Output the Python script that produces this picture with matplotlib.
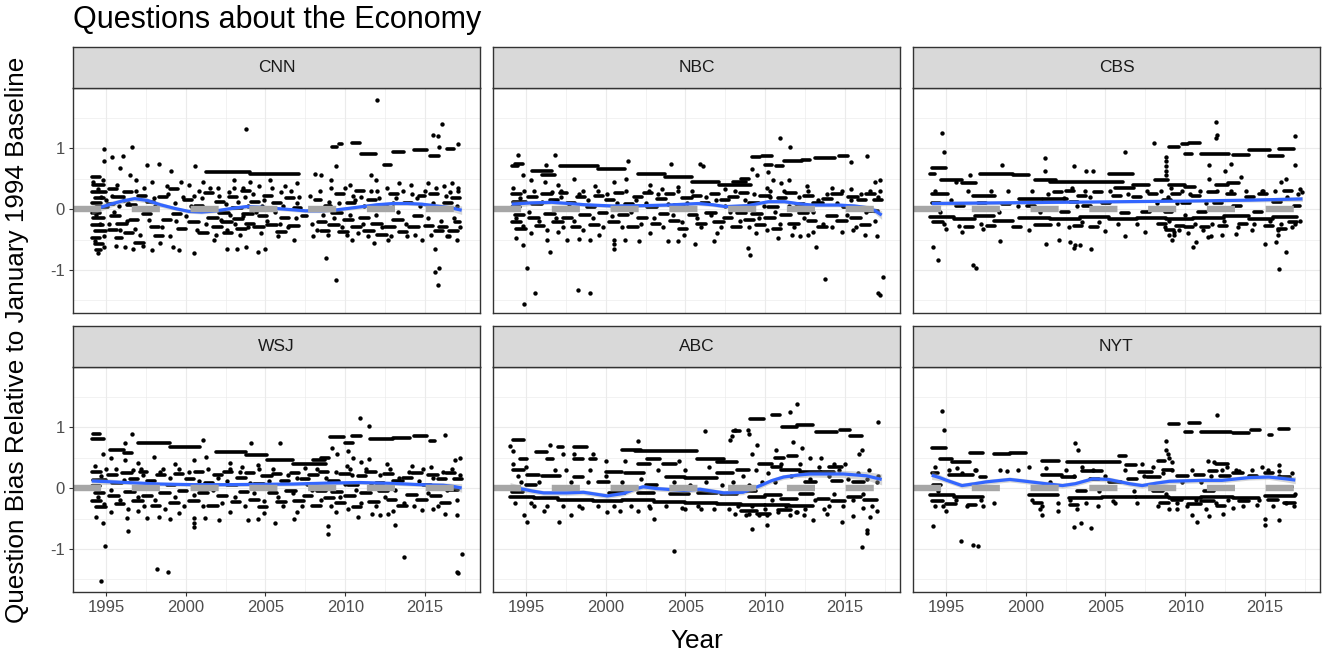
import numpy as np
import matplotlib.pyplot as plt

plt.rcParams['font.family'] = ['Liberation Sans', 'DejaVu Sans']
plt.rcParams['axes.unicode_minus'] = False

networks = ['CNN', 'NBC', 'CBS', 'WSJ', 'ABC', 'NYT']
x_breaks = [1995, 2000, 2005, 2010, 2015]
y_breaks = [-1, 0, 1]

# ---------------- CNN ----------------
# runs of repeated values: (start year, end year, bias)
cnn_runs = [
    (2001.3, 2004.0, 0.61), (2004.0, 2007.1, 0.58),
    (2009.2, 2009.5, 1.02), (2009.6, 2009.8, 1.07), (2010.4, 2010.9, 1.08),
    (2011.0, 2011.9, 0.90), (2012.4, 2012.9, 0.72), (2013.0, 2013.7, 0.94),
    (2014.3, 2015.1, 0.97), (2015.3, 2015.9, 0.87), (2016.4, 2016.8, 0.98),
    (1994.1, 1994.6, 0.52), (1994.2, 1994.9, 0.40), (1994.1, 1995.0, 0.28), (1994.3, 1994.9, 0.18),
    (1994.1, 1994.7, 0.10), (1994.4, 1995.1, 0.03), (1994.1, 1994.6, -0.06), (1994.2, 1994.9, -0.15),
    (1994.1, 1994.8, -0.26), (1994.3, 1995.0, -0.36), (1994.1, 1994.6, -0.47), (1994.3, 1994.8, -0.58),
    (1994.4, 1994.7, -0.68),
    (1995.2, 1995.7, 0.33), (1995.5, 1996.1, 0.20), (1995.1, 1995.5, 0.08), (1995.3, 1995.9, -0.12),
    (1995.7, 1996.3, -0.24), (1995.2, 1995.7, -0.35), (1995.6, 1996.0, -0.48), (1996.1, 1996.6, 0.28),
    (1996.3, 1996.9, 0.06), (1996.5, 1997.0, -0.18), (1996.2, 1996.7, -0.40), (1996.8, 1997.4, -0.55),
    (1997.0, 1997.5, 0.22), (1997.3, 1997.8, -0.08), (1997.6, 1998.0, 0.12), (1997.8, 1998.3, -0.30),
    (1998.1, 1998.6, -0.44), (1998.3, 1998.8, 0.20), (1998.6, 1999.1, -0.18), (1999.0, 1999.5, 0.33),
    (1999.2, 1999.7, -0.08), (1999.5, 2000.0, -0.32), (1999.9, 2000.4, 0.14), (2000.2, 2000.8, -0.22),
    (2000.6, 2001.1, 0.05), (2000.8, 2001.4, -0.40),
    (2001.2, 2001.7, 0.26), (2001.4, 2002.0, -0.14), (2001.7, 2002.3, -0.30), (2001.9, 2002.4, 0.12),
    (2002.1, 2002.7, -0.06), (2002.3, 2002.9, -0.22), (2002.4, 2002.9, -0.40), (2002.7, 2003.2, 0.20),
    (2002.9, 2003.5, 0.02), (2003.0, 2003.6, -0.16), (2003.2, 2003.8, -0.32), (2003.5, 2004.0, 0.30),
    (2003.6, 2004.2, -0.08), (2003.8, 2004.3, -0.24),
    (2004.1, 2004.6, 0.12), (2004.3, 2004.9, -0.30), (2004.6, 2005.1, -0.12), (2004.9, 2005.4, 0.22),
    (2005.1, 2005.7, -0.26), (2005.5, 2006.0, 0.10), (2005.7, 2006.3, -0.38), (2006.0, 2006.5, -0.14),
    (2006.3, 2006.8, 0.18), (2006.5, 2007.1, -0.28), (2006.8, 2007.2, 0.02),
    (2007.3, 2007.6, -0.12), (2008.1, 2008.5, 0.15), (2008.3, 2008.8, -0.22), (2008.5, 2009.0, -0.36),
    (2008.7, 2009.1, 0.05),
    (2009.0, 2009.6, -0.26), (2009.2, 2009.8, -0.06), (2009.4, 2009.9, 0.24), (2009.6, 2010.2, -0.38),
    (2009.9, 2010.5, -0.18), (2010.1, 2010.6, 0.10), (2010.4, 2011.0, -0.30), (2010.7, 2011.2, 0.30),
    (2010.9, 2011.5, -0.14), (2011.2, 2011.8, -0.36), (2011.4, 2011.9, 0.14), (2011.7, 2012.3, -0.24),
    (2012.0, 2012.6, -0.42), (2012.2, 2012.7, 0.04), (2012.5, 2013.1, -0.30), (2012.8, 2013.3, 0.24),
    (2013.0, 2013.6, -0.18), (2013.4, 2013.9, -0.38), (2013.7, 2014.2, 0.10), (2014.0, 2014.6, -0.30),
    (2014.3, 2014.8, -0.12), (2014.6, 2015.0, 0.22),
    (2015.0, 2015.5, -0.28), (2015.3, 2015.8, 0.24), (2015.6, 2016.1, -0.36), (2015.9, 2016.4, -0.30),
    (2016.2, 2016.7, 0.10), (2016.5, 2017.1, -0.36), (2016.7, 2017.2, 0.18), (2016.9, 2017.2, -0.22),
]
cnn_dots = [
    (1994.85, 0.99), (1994.85, 0.78), (1995.4, 0.86), (1996.05, 0.87), (1996.6, 1.01), (1995.9, 0.67),
    (1996.5, 0.55), (1997.6, 0.72), (1998.3, 0.73), (1999.1, 0.62), (2000.6, 0.71), (1996.9, 0.48),
    (1997.9, 0.44), (1998.8, 0.38), (1999.7, 0.45), (2000.2, 0.40), (2001.1, 0.45), (2003.0, 0.48),
    (2004.0, 0.45), (2005.3, 0.48), (2006.2, 0.38), (2007.0, 0.42), (2008.1, 0.58), (2008.5, 0.55),
    (2009.1, 0.48), (2009.4, 0.70), (2011.6, 0.55), (2011.9, 0.48), (2013.4, 0.42), (2014.1, 0.40),
    (2015.2, 0.42), (2016.2, 0.38), (2016.7, 0.42), (2017.1, 0.35), (2010.3, 0.40), (2003.6, 0.35),
    (2004.6, 0.38), (2002.0, 0.35), (2000.8, 0.30),
    (1995.0, 0.15), (1995.8, 0.05), (1996.4, 0.10), (1997.2, 0.02), (1998.0, 0.18), (1999.3, 0.10),
    (2000.5, 0.22), (2001.6, 0.02), (2002.7, 0.28), (2003.9, 0.05), (2004.9, 0.15), (2006.0, 0.28),
    (2007.0, 0.10), (2007.8, 0.22), (2009.0, 0.12), (2010.5, 0.22), (2011.2, 0.05), (2012.0, 0.30),
    (2013.0, 0.10), (2014.5, 0.18), (2015.5, 0.10), (2016.6, 0.28), (2017.0, 0.05),
    (1994.5, -0.72), (1994.9, -0.62), (1995.6, -0.60), (1996.2, -0.62), (1996.7, -0.65), (1997.3, -0.60),
    (1997.9, -0.68), (1998.4, -0.55), (1999.2, -0.62), (1999.6, -0.67), (2000.5, -0.72), (2001.8, -0.50),
    (2002.6, -0.65), (2003.2, -0.65), (2003.8, -0.63), (2004.5, -0.70), (2005.0, -0.65), (2005.8, -0.45),
    (2006.8, -0.50), (2008.0, -0.45), (2008.8, -0.80), (2009.4, -1.16), (2010.4, -0.50), (2011.8, -0.55),
    (2012.7, -0.50), (2013.9, -0.45), (2014.8, -0.50), (2015.65, -0.66), (2015.9, -0.96), (2015.6, -1.04),
    (2015.8, -1.25), (2016.5, -0.45), (2017.0, -0.50),
    (2012.0, 1.79), (2003.8, 1.31), (2016.05, 1.39), (2015.5, 1.21), (2015.8, 1.19), (2017.05, 1.07),
    (2015.9, 1.02),
]
# single points inside the dense band around zero
cnn_cloud = [
    (1994.2, 0.45), (1994.3, -0.52), (1994.5, 0.33), (1994.6, -0.25), (1994.7, 0.20), (1994.9, -0.45),
    (1994.4, -0.10), (1994.8, 0.47), (1995.2, -0.25), (1995.4, 0.22), (1995.5, -0.05), (1995.7, 0.40),
    (1995.9, -0.35), (1996.1, 0.15), (1996.3, -0.20), (1996.8, -0.32), (1996.9, 0.30), (1997.1, -0.42),
    (1997.4, 0.35), (1997.7, -0.18), (1998.1, 0.05), (1998.5, -0.30), (1998.9, 0.25), (1999.0, -0.45),
    (1999.4, -0.20), (1999.8, 0.20), (2000.0, -0.12), (2000.3, 0.05), (2000.7, -0.35), (2001.0, 0.18),
    (2001.3, -0.25), (2001.5, 0.35), (2001.9, -0.42), (2002.1, 0.22), (2002.2, -0.18), (2002.5, 0.08),
    (2002.6, -0.35), (2002.8, -0.10), (2003.0, 0.35), (2003.1, -0.25), (2003.3, 0.12), (2003.4, -0.42),
    (2003.6, -0.12), (2003.7, 0.20), (2003.9, -0.30), (2004.2, 0.25), (2004.4, -0.05), (2004.7, -0.40),
    (2004.8, 0.05), (2005.1, -0.20), (2005.4, 0.35), (2005.6, -0.05), (2005.9, -0.25), (2006.1, 0.05),
    (2006.4, -0.30), (2006.6, 0.30), (2006.9, -0.15), (2007.1, 0.20), (2007.9, -0.25), (2008.2, -0.35),
    (2008.4, 0.30), (2008.6, -0.10), (2008.9, -0.42), (2009.1, 0.35), (2009.3, -0.15), (2009.6, 0.10),
    (2009.8, -0.30), (2010.0, 0.35), (2010.1, -0.42), (2010.3, -0.10), (2010.6, 0.15), (2010.8, -0.40),
    (2011.0, 0.20), (2011.1, -0.25), (2011.4, -0.45), (2011.6, 0.30), (2011.9, -0.10), (2012.1, 0.18),
    (2012.3, -0.30), (2012.6, 0.35), (2012.9, -0.45), (2013.2, 0.18), (2013.3, -0.05), (2013.6, 0.30),
    (2013.8, -0.25), (2014.2, 0.25), (2014.4, -0.42), (2014.7, 0.05), (2015.0, 0.30), (2015.2, -0.15),
    (2015.4, -0.42), (2015.7, 0.35), (2016.0, -0.20), (2016.3, 0.22), (2016.4, -0.45), (2016.8, -0.15),
    (2017.1, 0.30), (2017.2, -0.30),
]
# loess fit: (year, fit, half width of band)
cnn_fit = [
    (1994.1, -0.01, 0.08), (1994.7, 0.03, 0.06), (1995.3, 0.08, 0.05), (1996.0, 0.13, 0.04),
    (1996.8, 0.17, 0.04), (1997.6, 0.14, 0.04), (1998.4, 0.07, 0.04), (1999.3, 0.01, 0.03),
    (2000.2, -0.04, 0.03), (2001.0, -0.05, 0.03), (2001.9, -0.03, 0.03), (2002.9, 0.01, 0.03),
    (2003.8, 0.04, 0.03), (2004.7, 0.03, 0.03), (2005.6, 0.01, 0.03), (2006.6, -0.01, 0.03),
    (2007.5, -0.03, 0.03), (2008.4, -0.03, 0.03), (2009.25, -0.02, 0.03), (2010.2, 0.01, 0.03),
    (2011.1, 0.04, 0.03), (2012.0, 0.07, 0.03), (2013.0, 0.09, 0.03), (2013.9, 0.09, 0.03),
    (2014.8, 0.08, 0.03), (2015.7, 0.05, 0.04), (2016.6, 0.02, 0.05), (2017.3, -0.02, 0.07),
]

# ---------------- NBC ----------------
nbc_runs = [
    (1994.1, 1994.5, 0.70), (1994.3, 1994.8, 0.73), (1995.4, 1996.6, 0.62), (1996.0, 1996.8, 0.56),
    (1997.1, 1999.5, 0.71), (1999.5, 2001.2, 0.66), (2002.0, 2003.7, 0.58), (2003.7, 2005.4, 0.53),
    (2005.4, 2007.1, 0.45), (2007.1, 2009.1, 0.39), (2008.0, 2008.8, 0.45), (2009.15, 2009.7, 0.86),
    (2009.8, 2010.4, 0.87), (2011.2, 2012.3, 0.78), (2012.3, 2012.8, 0.80), (2013.1, 2014.4, 0.84),
    (2014.6, 2015.2, 0.87), (2010.0, 2010.4, 0.72), (2010.7, 2011.1, 0.70), (2008.5, 2009.0, 0.50),
    (1994.1, 1994.7, 0.25), (1994.2, 1995.0, 0.12), (1994.1, 1994.6, 0.03), (1994.3, 1994.9, -0.10),
    (1994.1, 1994.7, -0.22), (1994.4, 1995.0, -0.32),
    (1995.1, 1995.7, 0.20), (1995.4, 1996.0, 0.08), (1995.2, 1995.8, -0.14), (1995.6, 1996.1, -0.28),
    (1996.0, 1996.6, 0.24), (1996.2, 1996.8, -0.08), (1996.5, 1997.0, 0.14), (1996.7, 1997.3, -0.22),
    (1997.1, 1997.6, 0.26), (1997.3, 1997.9, -0.14), (1997.6, 1998.1, 0.10), (1997.9, 1998.4, -0.30),
    (1998.2, 1998.7, 0.20), (1998.4, 1999.0, -0.10), (1998.8, 1999.3, 0.04), (1999.0, 1999.6, -0.26),
    (1999.3, 1999.8, 0.22), (1999.6, 2000.1, -0.06),
    (2000.0, 2000.5, 0.14), (2000.2, 2000.8, -0.22), (2000.6, 2001.1, 0.26), (2000.8, 2001.4, -0.10),
    (2001.2, 2001.7, 0.08), (2001.4, 2002.0, -0.30), (2001.8, 2002.3, 0.20), (2002.0, 2002.6, -0.14),
    (2002.4, 2002.9, 0.26), (2002.6, 2003.2, 0.04), (2002.9, 2003.4, -0.24), (2003.2, 2003.8, 0.16),
    (2003.4, 2003.9, -0.08), (2003.8, 2004.3, 0.24), (2004.0, 2004.6, -0.20), (2004.3, 2004.9, 0.06),
    (2004.6, 2005.1, -0.32), (2004.8, 2005.4, 0.18),
    (2005.2, 2005.7, -0.10), (2005.5, 2006.0, 0.22), (2005.7, 2006.3, -0.24), (2006.0, 2006.5, 0.10),
    (2006.3, 2006.9, -0.06), (2006.6, 2007.1, 0.24), (2006.8, 2007.4, -0.22), (2007.2, 2007.7, 0.14),
    (2007.4, 2007.9, -0.14), (2007.7, 2008.3, 0.20), (2007.9, 2008.5, -0.30), (2008.2, 2008.8, -0.06),
    (2008.4, 2008.9, 0.26), (2008.7, 2009.3, -0.18),
    (2009.0, 2009.6, 0.10), (2009.2, 2009.8, -0.08), (2009.4, 2010.0, -0.26), (2009.7, 2010.3, 0.22),
    (2010.0, 2010.6, -0.14), (2010.2, 2010.8, 0.04), (2010.5, 2011.0, -0.32), (2010.8, 2011.3, 0.18),
    (2011.0, 2011.6, -0.10), (2011.3, 2011.9, 0.26), (2011.5, 2012.1, -0.24), (2011.9, 2012.4, 0.08),
    (2012.1, 2012.7, -0.06), (2012.4, 2013.0, 0.22), (2012.7, 2013.2, -0.20), (2013.0, 2013.6, 0.10),
    (2013.3, 2013.9, -0.30), (2013.6, 2014.2, 0.16), (2013.9, 2014.5, -0.12), (2014.2, 2014.8, 0.24),
    (2014.5, 2015.1, -0.20), (2014.9, 2015.4, 0.04), (2015.2, 2015.8, 0.20), (2015.4, 2016.0, -0.14),
    (2015.8, 2016.3, 0.14), (2016.0, 2016.6, -0.26), (2016.3, 2016.9, 0.24), (2016.5, 2017.1, -0.04),
    (2016.8, 2017.3, 0.14),
]
nbc_dots = [
    (1994.5, 0.89), (1996.8, 0.89), (1996.25, 0.72), (2001.4, 0.78), (2004.1, 0.73), (2005.9, 0.73),
    (2006.1, 0.71), (2010.95, 1.16), (2011.55, 1.02), (2015.4, 0.77), (2016.4, 0.87), (1994.8, 0.55),
    (1995.3, 0.48), (1996.2, 0.45), (1997.0, 0.40), (1998.0, 0.50), (1999.3, 0.38), (2000.5, 0.45),
    (2001.3, 0.50), (2002.8, 0.40), (2004.5, 0.36), (2007.5, 0.32), (2009.2, 0.65), (2009.5, 0.55),
    (2010.2, 0.60), (2010.5, 0.48), (2010.1, 0.35), (2011.0, 0.42), (2011.5, 0.47), (2012.6, 0.38),
    (2014.2, 0.35), (2015.4, 0.33), (2016.9, 0.45), (2017.2, 0.48), (2003.5, 0.33), (1998.6, 0.30),
    (2010.3, 0.30),
    (1994.4, -0.48), (1994.8, -0.59), (1996.5, -0.70), (1996.3, -0.50), (1997.6, -0.50), (1998.3, -0.49),
    (1999.0, -0.51), (2000.5, -0.50), (2000.5, -0.58), (2000.5, -0.65), (2001.2, -0.50), (2002.1, -0.53),
    (2003.9, -0.53), (2004.5, -0.52), (2005.6, -0.58), (2006.8, -0.52), (2008.9, -0.64), (2010.8, -0.48),
    (2011.7, -0.43), (2012.2, -0.45), (2012.7, -0.43), (2014.8, -0.37), (2016.25, -0.43), (2017.0, -0.45),
    (1995.3, -0.40), (1997.0, -0.38), (1999.6, -0.42), (2002.8, -0.40), (2004.9, -0.42), (2007.0, -0.40),
    (2009.4, -0.40), (2013.0, -0.38), (2015.5, -0.35),
    (1995.05, -0.96), (1995.55, -1.37), (1994.85, -1.55), (1998.25, -1.33), (1999.0, -1.38),
    (2009.05, -0.75), (2013.75, -1.14), (2017.4, -1.11), (2017.1, -1.38), (2017.2, -1.41), (2013.2, -0.62),
]
nbc_cloud = [
    (1994.2, 0.35), (1994.4, -0.15), (1994.6, 0.18), (1994.8, -0.28), (1994.9, 0.30), (1995.2, -0.05),
    (1995.5, 0.30), (1995.8, -0.20), (1996.0, 0.12), (1996.3, -0.35), (1996.6, 0.28), (1996.9, -0.15),
    (1997.2, 0.30), (1997.2, 0.20), (1997.3, -0.30), (1997.7, 0.05), (1998.0, -0.20), (1998.3, 0.25),
    (1998.6, -0.35), (1998.9, 0.15), (1999.2, -0.15), (1999.5, 0.30), (1999.8, -0.30), (2000.1, 0.25),
    (2000.4, -0.12), (2000.7, 0.10), (2001.0, -0.30), (2001.3, 0.30), (2001.6, -0.05), (2001.9, 0.15),
    (2002.2, -0.25), (2002.5, 0.10), (2002.7, 0.30), (2003.0, -0.15), (2003.3, 0.25), (2003.6, -0.30),
    (2003.9, 0.08), (2004.2, -0.10), (2004.5, 0.30), (2004.8, -0.22), (2005.1, 0.10), (2005.4, 0.30),
    (2005.7, -0.15), (2006.0, -0.30), (2006.3, 0.20), (2006.6, -0.10), (2006.9, 0.15), (2007.2, -0.30),
    (2007.5, 0.05), (2007.8, -0.05), (2008.1, 0.30), (2008.4, -0.20), (2008.7, 0.15), (2009.0, -0.30),
    (2009.3, 0.25), (2009.6, -0.15), (2009.9, 0.05), (2010.1, -0.35), (2010.3, 0.20), (2010.6, -0.05),
    (2010.9, -0.25), (2011.2, 0.30), (2011.5, 0.05), (2011.8, -0.30), (2012.1, 0.20), (2012.4, -0.15),
    (2012.7, 0.30), (2013.0, -0.05), (2013.3, 0.15), (2013.6, -0.25), (2013.9, 0.25), (2014.2, -0.30),
    (2014.5, 0.10), (2014.8, 0.30), (2015.1, -0.10), (2015.4, 0.15), (2015.7, -0.30), (2016.0, 0.25),
    (2016.3, -0.05), (2016.6, 0.30), (2016.9, -0.20), (2017.1, 0.20), (2017.2, 0.30),
]
nbc_fit = [
    (1994.1, 0.08, 0.06), (1995.3, 0.10, 0.04), (1996.6, 0.11, 0.03), (1997.7, 0.09, 0.03),
    (1998.7, 0.07, 0.03), (2000.4, 0.05, 0.03), (2002.25, 0.055, 0.03), (2003.9, 0.065, 0.03),
    (2005.8, 0.09, 0.03), (2006.7, 0.07, 0.03), (2007.5, 0.04, 0.03), (2008.9, 0.055, 0.03),
    (2010.2, 0.12, 0.03), (2011.2, 0.12, 0.03), (2012.0, 0.09, 0.03), (2012.9, 0.065, 0.03),
    (2014.6, 0.065, 0.03), (2015.6, 0.05, 0.03), (2016.45, 0.02, 0.04), (2016.9, -0.03, 0.05),
    (2017.3, -0.10, 0.07),
]

# ---------------- CBS ----------------
cbs_runs = [
    (1994.1, 1995.0, 0.67), (1994.0, 1994.3, 0.58), (1994.7, 1996.0, 0.48), (1996.0, 1996.9, 0.42),
    (1997.1, 1999.2, 0.58), (1999.2, 2000.2, 0.56), (2000.6, 2001.9, 0.48), (2001.5, 2006.1, 0.45),
    (2005.2, 2006.7, 0.58), (2006.7, 2007.7, 0.39), (2005.6, 2006.8, 0.34), (2008.1, 2008.9, 0.48),
    (2009.0, 2010.0, 0.39), (2010.0, 2010.6, 0.36), (2011.9, 2012.7, 0.39), (2012.7, 2013.4, 0.42),
    (2009.0, 2009.6, 1.02), (2009.8, 2010.2, 1.06), (2010.25, 2010.9, 1.09), (2010.0, 2010.4, 0.91),
    (2011.0, 2012.75, 0.91), (2013.0, 2014.0, 0.89), (2014.0, 2015.3, 0.97), (2015.25, 2016.1, 0.87),
    (2015.9, 2016.8, 0.98),
    (1996.7, 1998.1, 0.22), (1999.6, 2001.05, 0.17), (2001.1, 2002.6, 0.16), (1994.1, 1995.1, 0.24),
    (1994.0, 1995.5, -0.13), (1995.5, 1996.8, -0.17), (1996.8, 1998.0, -0.12), (1998.0, 1999.2, -0.20),
    (1999.6, 2001.5, -0.14), (2001.5, 2003.4, -0.16), (2003.4, 2005.2, -0.13), (2005.2, 2007.0, -0.16),
    (2007.0, 2008.8, -0.14), (2008.8, 2010.5, -0.16), (2010.5, 2012.4, -0.15), (2012.4, 2014.0, -0.12),
    (2014.0, 2015.5, -0.16), (2015.5, 2017.0, -0.13), (2000.6, 2001.6, -0.26),
    (1994.1, 1994.6, 0.10), (1994.2, 1994.8, -0.22), (1995.6, 1996.1, 0.05), (1996.2, 1996.7, -0.30),
    (1997.0, 1997.5, 0.10), (1997.6, 1998.1, -0.28), (1998.5, 1999.0, 0.08), (1999.2, 1999.7, -0.30),
    (2000.1, 2000.6, 0.05), (2001.8, 2002.3, 0.28), (2002.2, 2002.7, -0.05), (2002.5, 2003.0, 0.30),
    (2002.8, 2003.3, 0.12), (2003.0, 2003.5, -0.28), (2003.3, 2003.8, 0.22), (2003.6, 2004.1, 0.05),
    (2004.0, 2004.5, -0.30), (2004.3, 2004.8, 0.28), (2004.8, 2005.3, 0.10), (2005.5, 2006.0, 0.22),
    (2006.0, 2006.5, -0.06), (2006.7, 2007.2, 0.20), (2007.3, 2007.8, -0.05), (2007.7, 2008.2, 0.25),
    (2008.3, 2008.8, -0.25), (2008.6, 2009.1, 0.15), (2008.7, 2009.2, -0.05), (2008.8, 2009.3, -0.35),
    (2009.2, 2009.7, 0.25), (2009.4, 2009.9, -0.28), (2009.8, 2010.3, 0.10), (2010.0, 2010.5, -0.30),
    (2010.4, 2010.9, 0.22), (2010.8, 2011.3, -0.05), (2011.0, 2011.5, -0.30), (2011.4, 2011.9, 0.28),
    (2011.8, 2012.3, 0.10), (2012.1, 2012.6, -0.28), (2012.6, 2013.1, 0.24), (2013.0, 2013.5, 0.05),
    (2013.4, 2013.9, -0.25), (2013.8, 2014.3, 0.20), (2014.3, 2014.8, -0.05), (2014.6, 2015.1, 0.24),
    (2015.0, 2015.5, -0.28), (2015.5, 2016.0, 0.12), (2015.8, 2016.3, -0.32), (2016.2, 2016.7, 0.30),
    (2016.5, 2017.0, -0.22), (2016.8, 2017.2, 0.05),
]
cbs_dots = [
    (1994.75, 1.24), (1994.9, 0.94), (1994.2, -0.63), (1994.5, -0.84), (1996.7, -0.92), (1996.9, -0.96),
    (2011.9, 1.43), (2011.9, 1.16), (2012.0, 1.21), (2016.9, 1.20), (2006.2, 0.94), (2015.9, -0.99),
    (2016.3, -0.71), (2015.0, -0.58), (2015.7, -0.54), (2008.05, 1.08), (2011.5, 0.72), (2012.85, 0.74),
    (2008.8, 0.86), (2008.8, 0.78), (2008.8, 0.70), (2008.8, 0.62), (2008.8, 0.55), (1998.5, 0.72),
    (2001.2, 0.83), (2001.2, 0.63), (2003.0, 0.70), (2003.8, 0.62), (2004.2, 0.62), (2016.9, 0.72),
    (2016.3, 0.50), (2016.0, 0.45), (2017.2, 0.32), (2017.3, 0.28), (2012.5, 0.62), (2013.5, 0.52),
    (2014.8, 0.30), (2011.5, 0.50), (1995.6, 0.45), (1996.5, 0.55),
    (1996.0, -0.37), (1997.3, -0.32), (1998.4, -0.52), (2001.3, -0.58), (2002.1, -0.51), (2002.8, -0.54),
    (2003.1, -0.59), (2003.4, -0.59), (2003.0, -0.64), (2004.1, -0.66), (2006.2, -0.45), (2009.2, -0.51),
    (2010.5, -0.63), (2010.7, -0.54), (2011.4, -0.46), (2011.6, -0.44), (2012.3, -0.43), (2013.2, -0.41),
    (2015.8, -0.34), (2015.8, -0.42), (2009.0, -0.42), (2009.3, -0.38), (2000.2, -0.34), (2005.0, -0.36),
    (2007.5, -0.38), (2014.2, -0.35), (1995.0, -0.33), (2016.9, -0.25),
]
cbs_cloud = [
    (1994.3, 0.30), (1994.6, -0.05), (1994.9, -0.25), (1995.3, 0.15), (1995.8, -0.28), (1996.4, 0.30),
    (1997.2, -0.25), (1997.8, 0.30), (1998.3, -0.05), (1998.9, 0.30), (1999.5, 0.05), (2000.4, 0.30),
    (2000.9, -0.05), (2001.4, 0.25), (2002.0, -0.25), (2002.4, 0.18), (2002.7, -0.30), (2002.9, 0.35),
    (2003.2, 0.05), (2003.5, -0.22), (2003.7, 0.30), (2004.0, 0.20), (2004.6, -0.22), (2005.3, 0.30),
    (2005.8, -0.25), (2006.4, 0.25), (2007.0, -0.25), (2007.6, 0.30), (2008.2, 0.10), (2008.5, 0.30),
    (2008.7, -0.30), (2008.9, 0.20), (2009.0, -0.20), (2009.1, 0.35), (2009.3, -0.42), (2009.5, 0.10),
    (2009.6, -0.35), (2009.8, 0.30), (2010.0, -0.10), (2010.2, -0.40), (2010.3, 0.25), (2010.6, -0.25),
    (2010.9, 0.30), (2011.1, -0.35), (2011.3, 0.10), (2011.7, -0.25), (2012.0, 0.30), (2012.4, -0.20),
    (2012.9, 0.30), (2013.3, -0.30), (2013.8, 0.30), (2014.3, -0.25), (2014.9, 0.30), (2015.3, -0.20),
    (2015.6, 0.30), (2016.0, -0.25), (2016.4, 0.20), (2016.7, -0.30), (2017.1, 0.25), (2017.2, -0.20),
]
cbs_fit = [
    (1994.1, 0.09, 0.04), (1998.0, 0.10, 0.03), (2002.0, 0.11, 0.02), (2006.0, 0.12, 0.02),
    (2010.0, 0.13, 0.02), (2014.0, 0.145, 0.03), (2017.35, 0.165, 0.04),
]

# ---------------- WSJ ----------------
wsj_runs = [
    (1994.2, 1994.6, 0.89), (1994.1, 1994.9, 0.80), (1995.25, 1996.1, 0.62), (1996.1, 1996.6, 0.57),
    (1997.0, 1999.0, 0.73), (1999.0, 2000.9, 0.67), (2001.9, 2003.8, 0.59), (2003.8, 2005.1, 0.54),
    (2005.1, 2006.75, 0.46), (2006.75, 2008.8, 0.40), (2008.0, 2008.7, 0.46), (2009.05, 2009.9, 0.84),
    (2010.4, 2011.0, 0.86), (2010.0, 2010.5, 0.73), (2011.55, 2013.0, 0.80), (2013.0, 2014.05, 0.82),
    (2014.3, 2015.1, 0.86), (2015.3, 2015.6, 0.77), (2008.5, 2009.0, 0.50),
    (1994.1, 1994.7, 0.26), (1994.2, 1995.0, 0.13), (1994.1, 1994.6, 0.04), (1994.3, 1994.9, -0.09),
    (1994.1, 1994.7, -0.21), (1994.4, 1995.0, -0.31),
    (1995.1, 1995.7, 0.21), (1995.4, 1996.0, 0.09), (1995.2, 1995.8, -0.13), (1995.6, 1996.1, -0.27),
    (1996.0, 1996.6, 0.25), (1996.2, 1996.8, -0.07), (1996.5, 1997.0, 0.15), (1996.7, 1997.3, -0.21),
    (1997.1, 1997.6, 0.27), (1997.3, 1997.9, -0.13), (1997.6, 1998.1, 0.11), (1997.9, 1998.4, -0.29),
    (1998.2, 1998.7, 0.21), (1998.4, 1999.0, -0.09), (1998.8, 1999.3, 0.05), (1999.0, 1999.6, -0.25),
    (1999.3, 1999.8, 0.23), (1999.6, 2000.1, -0.05),
    (2000.0, 2000.5, 0.15), (2000.2, 2000.8, -0.21), (2000.6, 2001.1, 0.27), (2000.8, 2001.4, -0.09),
    (2001.2, 2001.7, 0.09), (2001.4, 2002.0, -0.29), (2001.8, 2002.3, 0.21), (2002.0, 2002.6, -0.13),
    (2002.4, 2002.9, 0.27), (2002.6, 2003.2, 0.05), (2002.9, 2003.4, -0.23), (2003.2, 2003.8, 0.17),
    (2003.4, 2003.9, -0.07), (2003.8, 2004.3, 0.25), (2004.0, 2004.6, -0.19), (2004.3, 2004.9, 0.07),
    (2004.6, 2005.1, -0.31), (2004.8, 2005.4, 0.19),
    (2005.2, 2005.7, -0.09), (2005.5, 2006.0, 0.23), (2005.7, 2006.3, -0.23), (2006.0, 2006.5, 0.11),
    (2006.3, 2006.9, -0.05), (2006.6, 2007.1, 0.25), (2006.8, 2007.4, -0.21), (2007.2, 2007.7, 0.15),
    (2007.4, 2007.9, -0.13), (2007.7, 2008.3, 0.21), (2007.9, 2008.5, -0.29), (2008.2, 2008.8, -0.05),
    (2008.4, 2008.9, 0.27), (2008.7, 2009.3, -0.17),
    (2009.0, 2009.6, 0.11), (2009.2, 2009.8, -0.07), (2009.4, 2010.0, -0.25), (2009.7, 2010.3, 0.23),
    (2010.0, 2010.6, -0.13), (2010.2, 2010.8, 0.05), (2010.5, 2011.0, -0.31), (2010.8, 2011.3, 0.19),
    (2011.0, 2011.6, -0.09), (2011.3, 2011.9, 0.27), (2011.5, 2012.1, -0.23), (2011.9, 2012.4, 0.09),
    (2012.1, 2012.7, -0.05), (2012.4, 2013.0, 0.23), (2012.7, 2013.2, -0.19), (2013.0, 2013.6, 0.11),
    (2013.3, 2013.9, -0.29), (2013.6, 2014.2, 0.17), (2013.9, 2014.5, -0.11), (2014.2, 2014.8, 0.25),
    (2014.5, 2015.1, -0.19), (2014.9, 2015.4, 0.05), (2015.2, 2015.8, 0.21), (2015.4, 2016.0, -0.13),
    (2015.8, 2016.3, 0.15), (2016.0, 2016.6, -0.25), (2016.3, 2016.9, 0.25), (2016.5, 2017.1, -0.03),
    (2016.8, 2017.3, 0.15),
]
wsj_dots = [
    (1996.6, 0.89), (1996.2, 0.73), (2001.1, 0.78), (2004.1, 0.74), (2005.9, 0.74), (2010.9, 1.15),
    (2011.5, 1.02), (2016.25, 0.87), (1994.8, 0.56), (1995.3, 0.49), (1996.2, 0.46), (1997.0, 0.41),
    (1998.0, 0.51), (1999.3, 0.39), (2000.5, 0.46), (2001.3, 0.51), (2002.8, 0.41), (2004.5, 0.37),
    (2007.5, 0.33), (2009.2, 0.66), (2009.5, 0.56), (2010.2, 0.61), (2010.5, 0.49), (2010.1, 0.36),
    (2011.0, 0.43), (2011.5, 0.48), (2012.6, 0.39), (2014.2, 0.36), (2015.4, 0.34), (2016.9, 0.46),
    (2017.2, 0.50), (2003.5, 0.34), (1998.6, 0.31), (2010.3, 0.31),
    (1994.4, -0.47), (1994.8, -0.58), (1996.4, -0.70), (1996.3, -0.49), (1997.6, -0.49), (1998.3, -0.48),
    (1999.0, -0.50), (2000.5, -0.49), (2000.5, -0.57), (2000.5, -0.64), (2001.2, -0.49), (2002.1, -0.52),
    (2003.9, -0.52), (2004.5, -0.51), (2005.6, -0.57), (2006.8, -0.51), (2008.9, -0.63), (2010.8, -0.47),
    (2011.7, -0.42), (2012.2, -0.44), (2012.7, -0.42), (2014.8, -0.36), (2016.25, -0.42), (2017.0, -0.44),
    (1995.3, -0.39), (1997.0, -0.37), (1999.6, -0.41), (2002.8, -0.39), (2004.9, -0.41), (2007.0, -0.39),
    (2009.4, -0.39), (2013.0, -0.37), (2015.5, -0.34),
    (1994.7, -1.53), (1994.95, -0.95), (1998.2, -1.32), (1998.9, -1.38), (2008.95, -0.76),
    (2013.7, -1.13), (2017.3, -1.09), (2017.0, -1.37), (2017.1, -1.39), (2013.1, -0.60),
]
wsj_cloud = [
    (1994.3, 0.36), (1994.5, -0.14), (1994.7, 0.19), (1994.9, -0.27), (1995.0, 0.31), (1995.3, -0.04),
    (1995.6, 0.31), (1995.9, -0.19), (1996.1, 0.13), (1996.4, -0.34), (1996.7, 0.29), (1997.0, -0.14),
    (1997.2, 0.31), (1997.3, 0.21), (1997.4, -0.29), (1997.8, 0.06), (1998.1, -0.19), (1998.4, 0.26),
    (1998.7, -0.34), (1999.0, 0.16), (1999.3, -0.14), (1999.6, 0.31), (1999.9, -0.29), (2000.2, 0.26),
    (2000.5, -0.11), (2000.8, 0.11), (2001.1, -0.29), (2001.4, 0.31), (2001.7, -0.04), (2002.0, 0.16),
    (2002.3, -0.24), (2002.6, 0.11), (2002.8, 0.31), (2003.1, -0.14), (2003.4, 0.26), (2003.7, -0.29),
    (2004.0, 0.09), (2004.3, -0.09), (2004.6, 0.31), (2004.9, -0.21), (2005.2, 0.11), (2005.5, 0.31),
    (2005.8, -0.14), (2006.1, -0.29), (2006.4, 0.21), (2006.7, -0.09), (2007.0, 0.16), (2007.3, -0.29),
    (2007.6, 0.06), (2007.9, -0.04), (2008.2, 0.31), (2008.5, -0.19), (2008.8, 0.16), (2009.1, -0.29),
    (2009.4, 0.26), (2009.7, -0.14), (2010.0, 0.06), (2010.2, -0.34), (2010.4, 0.21), (2010.7, -0.04),
    (2011.0, -0.24), (2011.3, 0.31), (2011.6, 0.06), (2011.9, -0.29), (2012.2, 0.21), (2012.5, -0.14),
    (2012.8, 0.31), (2013.1, -0.04), (2013.4, 0.16), (2013.7, -0.24), (2014.0, 0.26), (2014.3, -0.29),
    (2014.6, 0.11), (2014.9, 0.31), (2015.2, -0.09), (2015.5, 0.16), (2015.8, -0.29), (2016.1, 0.26),
    (2016.4, -0.04), (2016.7, 0.31), (2017.0, -0.19), (2017.2, 0.21),
]
wsj_fit = [
    (1994.1, 0.115, 0.06), (1996.3, 0.09, 0.03), (1998.4, 0.065, 0.03), (2000.5, 0.055, 0.03),
    (2002.6, 0.055, 0.03), (2004.65, 0.06, 0.03), (2006.75, 0.065, 0.03), (2008.8, 0.08, 0.03),
    (2010.9, 0.09, 0.03), (2013.0, 0.075, 0.03), (2014.7, 0.055, 0.03), (2016.15, 0.045, 0.04),
    (2016.8, 0.025, 0.05), (2017.3, 0.0, 0.07),
]

# ---------------- ABC ----------------
abc_runs = [
    (1994.2, 1994.85, 0.78), (1994.65, 1995.05, 0.48), (1995.6, 1996.3, 0.59), (1996.3, 1996.7, 0.48),
    (1997.0, 1997.3, 0.67), (1998.0, 1998.8, 0.67), (1998.0, 1998.6, 0.48), (1999.0, 1999.4, 0.48),
    (2001.0, 2002.2, 0.63), (2001.85, 2005.7, 0.60), (2005.7, 2007.4, 0.48), (2007.0, 2008.2, 0.43),
    (2009.05, 2009.9, 1.13), (2010.4, 2010.9, 1.19), (2011.05, 2012.0, 1.00), (2012.0, 2013.0, 1.03),
    (2013.2, 2014.5, 0.92), (2014.7, 2015.3, 0.95), (2015.3, 2016.05, 0.85), (2008.0, 2008.4, 0.93),
    (1995.05, 1995.8, 0.21), (1996.0, 1997.15, 0.20), (1998.0, 1998.6, 0.18), (2000.0, 2001.0, 0.26),
    (2001.2, 2002.4, 0.25), (2003.8, 2005.0, 0.18), (2005.0, 2007.0, 0.17), (2007.0, 2008.0, 0.24),
    (2008.2, 2009.0, 0.30), (2009.6, 2010.4, 0.40), (2010.4, 2011.0, 0.34), (2011.0, 2012.2, 0.30),
    (2012.2, 2013.5, 0.26), (2013.5, 2014.3, 0.27), (2014.0, 2014.8, 0.35), (2010.6, 2011.2, 0.50),
    (2011.4, 2012.0, 0.52), (2002.0, 2002.8, 0.40), (2002.6, 2003.4, 0.48), (2003.6, 2004.4, 0.40),
    (1999.5, 2000.2, 0.10), (2002.5, 2003.2, 0.05), (2012.5, 2013.2, 0.10), (2014.2, 2014.8, 0.12),
    (2015.5, 2016.2, 0.10),
    (1994.0, 1995.5, -0.15), (1995.5, 1997.0, -0.17), (1997.0, 1999.2, -0.20), (1999.2, 2001.0, -0.22),
    (2001.0, 2003.0, -0.20), (2003.0, 2005.0, -0.23), (2005.0, 2007.0, -0.25), (2007.0, 2008.5, -0.27),
    (2008.5, 2010.0, -0.28), (2010.0, 2011.5, -0.28), (2011.5, 2013.0, -0.30), (2000.2, 2001.2, -0.08),
    (2002.0, 2003.0, -0.08), (2004.0, 2005.2, -0.10), (2005.8, 2007.0, -0.08), (2007.2, 2008.2, -0.10),
    (2008.3, 2009.4, -0.05), (2009.0, 2010.0, -0.15), (2010.0, 2011.0, -0.12), (2011.0, 2012.0, -0.18),
    (2012.2, 2013.0, -0.10), (2013.3, 2014.0, -0.18), (2014.2, 2015.0, -0.22), (2015.2, 2016.0, -0.15),
    (2016.2, 2017.0, -0.20), (2008.5, 2009.5, -0.38), (2009.5, 2010.3, -0.42), (2010.8, 2011.6, -0.36),
    (1994.1, 1994.8, -0.06), (1994.2, 1994.9, 0.30), (1995.0, 1995.6, 0.05),
]
abc_dots = [
    (2002.05, 0.77), (2006.2, 0.93), (2012.0, 1.37), (2011.55, 1.25), (2017.05, 1.08), (2016.05, 0.63),
    (2015.9, 0.55), (2010.7, 0.62), (2011.75, 0.75), (2012.8, 0.50), (2007.8, 0.78), (2007.9, 0.85),
    (2008.1, 0.95), (2008.9, 0.95), (2009.0, 0.88), (1994.0, 0.69), (1994.2, 0.60), (1994.2, 0.40),
    (1995.0, 0.35), (1996.5, 0.70), (1997.3, 0.55), (1998.0, 0.55), (1999.2, 0.55), (2000.0, 0.45),
    (2001.2, 0.45), (1997.5, 0.30), (1999.0, 0.30), (2004.6, 0.45), (2005.0, 0.30), (2006.5, 0.35),
    (2009.2, 0.55), (2009.5, 0.70), (2012.3, 0.65), (2013.5, 0.50), (2014.3, 0.40), (2015.0, 0.40),
    (2016.5, 0.30), (2017.1, 0.20),
    (1994.85, -0.45), (1995.05, -0.56), (1996.1, -0.37), (1997.05, -0.56), (1997.8, -0.45),
    (2000.05, -0.39), (2000.9, -0.38), (2002.0, -0.38), (2003.0, -0.50), (2004.25, -1.04), (2005.0, -0.35),
    (2008.1, -0.42), (2009.0, -0.42), (2009.15, -0.67), (2010.1, -0.61), (2010.1, -0.44), (2011.55, -0.45),
    (2012.4, -0.45), (2013.0, -0.53), (2013.85, -0.42), (2014.8, -0.56), (2015.5, -0.46), (2016.35, -0.69),
    (2016.35, -0.74), (2016.05, -0.97), (2016.1, -0.33), (2016.6, -0.48), (2017.0, -0.37), (1995.5, -0.30),
    (1998.5, -0.32), (2002.8, -0.32), (2006.0, -0.35), (2012.0, -0.40), (2014.0, -0.30),
]
abc_cloud = [
    (1994.3, -0.25), (1994.5, 0.20), (1994.7, 0.10), (1995.3, -0.25), (1995.8, 0.10), (1996.3, -0.30),
    (1996.8, 0.30), (1997.3, -0.30), (1997.8, 0.10), (1998.3, -0.30), (1998.9, 0.10), (1999.5, -0.30),
    (2000.0, 0.20), (2000.5, -0.30), (2001.0, 0.10), (2001.6, -0.30), (2002.2, 0.15), (2002.7, -0.30),
    (2003.3, 0.30), (2003.8, -0.30), (2004.3, 0.10), (2004.8, -0.32), (2005.3, 0.05), (2005.8, -0.30),
    (2006.3, 0.10), (2006.8, -0.35), (2007.3, 0.05), (2007.7, -0.35), (2008.0, 0.10), (2008.3, -0.30),
    (2008.6, 0.20), (2008.8, -0.45), (2009.0, 0.05), (2009.2, -0.30), (2009.4, 0.30), (2009.6, -0.45),
    (2009.8, 0.10), (2010.0, -0.35), (2010.2, 0.25), (2010.4, -0.20), (2010.6, 0.10), (2010.8, -0.40),
    (2011.0, 0.40), (2011.3, -0.30), (2011.6, 0.20), (2011.9, -0.40), (2012.2, 0.40), (2012.5, -0.35),
    (2012.8, 0.15), (2013.1, -0.20), (2013.4, 0.35), (2013.7, -0.35), (2014.0, 0.20), (2014.3, -0.10),
    (2014.6, 0.30), (2014.9, -0.30), (2015.2, 0.15), (2015.5, -0.20), (2015.8, 0.25), (2016.1, -0.10),
    (2016.4, 0.15), (2016.7, -0.30), (2017.0, 0.10),
]
abc_fit = [
    (1994.0, 0.02, 0.07), (1994.65, -0.01, 0.05), (1995.4, -0.05, 0.04), (1996.1, -0.08, 0.04),
    (1997.55, -0.08, 0.04), (1998.6, -0.07, 0.04), (2000.1, -0.13, 0.04), (2001.1, -0.09, 0.04),
    (2001.8, -0.02, 0.04), (2002.35, 0.02, 0.04), (2003.2, -0.01, 0.04), (2004.9, -0.04, 0.04),
    (2005.9, -0.02, 0.04), (2007.4, -0.08, 0.04), (2008.6, -0.07, 0.04), (2009.7, 0.04, 0.04),
    (2010.4, 0.12, 0.04), (2011.15, 0.18, 0.04), (2012.0, 0.21, 0.04), (2012.8, 0.23, 0.05),
    (2014.9, 0.23, 0.06), (2016.35, 0.20, 0.07), (2017.3, 0.14, 0.09),
]

# ---------------- NYT ----------------
nyt_runs = [
    (1994.1, 1995.0, 0.66), (1994.6, 1995.4, 0.48), (1995.4, 1996.5, 0.42), (1996.5, 1997.3, 0.58),
    (1998.0, 1999.0, 0.56), (1999.0, 2000.0, 0.57), (2001.0, 2002.1, 0.45), (2002.6, 2005.9, 0.42),
    (2005.85, 2006.3, 0.53), (2006.3, 2006.9, 0.37), (2007.1, 2007.9, 0.27), (2008.3, 2008.7, 0.45),
    (2009.0, 2009.6, 1.05), (2010.25, 2010.9, 1.06), (2010.0, 2010.4, 0.92), (2011.0, 2012.85, 0.92),
    (2013.0, 2014.0, 0.91), (2014.1, 2014.7, 0.95), (2015.25, 2015.45, 0.87), (2015.9, 2016.5, 0.97),
    (2011.9, 2012.7, 0.39),
    (1995.2, 1996.7, 0.21), (1997.1, 1997.5, 0.18), (2001.0, 2002.3, 0.21), (2002.3, 2003.1, 0.18),
    (2003.55, 2004.8, 0.28), (2004.0, 2004.6, 0.15), (2005.2, 2006.0, 0.10), (2006.4, 2007.0, 0.15),
    (2007.6, 2008.4, 0.18), (2008.6, 2009.2, 0.30), (2009.5, 2010.2, 0.20), (2010.6, 2011.2, 0.22),
    (2011.5, 2012.0, 0.28), (2012.2, 2012.8, 0.20), (2013.0, 2013.6, 0.24), (2014.0, 2014.5, 0.20),
    (2015.0, 2015.5, 0.25), (2016.0, 2016.6, 0.18), (1994.1, 1994.5, 0.25),
    (1994.0, 1995.5, -0.12), (1995.5, 1997.3, -0.14), (2000.2, 2002.0, -0.12), (2002.7, 2004.8, -0.16),
    (2004.8, 2006.9, -0.14), (2006.9, 2009.0, -0.15), (2009.0, 2011.0, -0.16), (2011.0, 2013.0, -0.15),
    (2013.0, 2014.6, -0.16), (2015.0, 2016.9, -0.13), (1994.1, 1994.8, -0.22), (1995.0, 1995.6, -0.26),
    (1996.4, 1996.9, -0.28), (2000.5, 2001.0, -0.24), (2002.8, 2003.3, -0.28), (2008.4, 2009.0, -0.24),
    (2009.2, 2009.8, -0.20), (2010.2, 2011.0, -0.26), (2011.0, 2011.8, -0.22), (2012.0, 2012.5, -0.30),
    (2013.4, 2014.0, -0.22), (2015.2, 2015.8, -0.20), (2016.2, 2016.9, -0.24), (2003.2, 2003.8, -0.05),
    (2008.0, 2008.6, -0.05), (2011.2, 2011.8, -0.05), (2016.2, 2016.7, 0.02), (1994.2, 1994.7, 0.05),
]
nyt_dots = [
    (1994.75, 1.26), (1994.9, 0.95), (1994.2, -0.62), (1995.95, -0.87), (1996.7, -0.93), (1997.0, -0.95),
    (2012.0, 1.20), (2008.8, 0.77), (2015.0, -0.60), (2015.0, -0.50), (2015.9, -0.53), (2003.1, 0.73),
    (2003.3, 0.62), (2003.0, -0.64), (2003.45, -0.58), (2004.1, -0.65), (2010.45, -0.45), (2010.75, -0.55),
    (2011.5, -0.46), (2012.35, -0.42), (2008.8, 0.62), (2008.9, 0.55), (2009.0, 0.50), (2009.2, 0.42),
    (2011.4, 0.45), (2011.8, 0.42), (2012.6, 0.35), (2014.8, 0.35), (2015.9, 0.37), (2015.9, 0.28),
    (2013.4, 0.28), (2001.3, 0.32), (1998.8, 0.28), (2000.2, 0.35), (1995.7, 0.32), (1996.8, 0.30),
    (2007.3, 0.40), (1997.3, -0.30), (1998.0, -0.25), (2000.9, -0.35), (2001.0, -0.45), (2002.0, -0.38),
    (2004.5, -0.30), (2005.5, -0.22), (2007.0, -0.24), (2009.5, -0.35), (2013.0, -0.32), (2014.5, -0.28),
    (2016.8, -0.30), (1994.3, -0.30), (1995.0, -0.38),
]
nyt_cloud = [
    (1994.3, 0.35), (1994.5, -0.05), (1994.8, -0.30), (1995.2, 0.30), (1995.6, -0.20), (1996.0, 0.25),
    (1996.3, -0.30), (1996.9, 0.30), (1997.2, -0.20), (1998.4, 0.30), (1999.5, 0.30), (2000.4, -0.20),
    (2001.0, -0.30), (2001.5, 0.10), (2002.0, -0.25), (2002.5, 0.30), (2002.8, -0.20), (2003.0, 0.20),
    (2003.2, -0.35), (2003.5, 0.35), (2003.8, -0.25), (2004.2, 0.30), (2004.6, -0.05), (2005.0, 0.20),
    (2005.6, -0.25), (2006.2, 0.30), (2006.8, -0.05), (2007.4, 0.20), (2008.0, 0.35), (2008.3, -0.30),
    (2008.6, 0.25), (2008.8, -0.10), (2009.0, -0.35), (2009.2, 0.30), (2009.5, -0.25), (2009.8, 0.10),
    (2010.1, -0.30), (2010.4, 0.30), (2010.7, -0.20), (2011.0, 0.10), (2011.3, -0.35), (2011.6, 0.20),
    (2011.9, -0.25), (2012.3, 0.30), (2012.7, -0.20), (2013.2, 0.30), (2013.6, -0.30), (2014.2, 0.30),
    (2014.6, -0.20), (2015.2, 0.30), (2015.5, -0.30), (2015.9, 0.20), (2016.3, -0.25), (2016.7, 0.25),
    (2016.9, -0.10),
]
nyt_fit = [
    (1994.1, 0.21, 0.07), (1994.6, 0.17, 0.05), (1995.0, 0.13, 0.04), (1996.0, 0.04, 0.04),
    (1996.8, 0.07, 0.04), (1997.5, 0.10, 0.04), (1999.0, 0.14, 0.04), (2000.0, 0.11, 0.04),
    (2001.25, 0.07, 0.04), (2002.3, 0.04, 0.04), (2003.1, 0.07, 0.04), (2004.2, 0.15, 0.04),
    (2005.2, 0.14, 0.04), (2006.5, 0.07, 0.04), (2007.3, 0.04, 0.04), (2008.2, 0.08, 0.04),
    (2009.0, 0.11, 0.04), (2011.05, 0.125, 0.04), (2012.3, 0.125, 0.04), (2014.0, 0.17, 0.04),
    (2015.25, 0.18, 0.04), (2016.3, 0.15, 0.05), (2016.9, 0.13, 0.06),
]

panels = {
    'CNN': (cnn_runs, cnn_dots + cnn_cloud, cnn_fit),
    'NBC': (nbc_runs, nbc_dots + nbc_cloud, nbc_fit),
    'CBS': (cbs_runs, cbs_dots + cbs_cloud, cbs_fit),
    'WSJ': (wsj_runs, wsj_dots + wsj_cloud, wsj_fit),
    'ABC': (abc_runs, abc_dots + abc_cloud, abc_fit),
    'NYT': (nyt_runs, nyt_dots + nyt_cloud, nyt_fit),
}

W, H = 1324, 658
fig = plt.figure(figsize=(W / 100, H / 100), dpi=100)

col_left = [73, 493, 913]
row_top = [88, 367]
pw, ph, sh = 407, 225, 41
edge = '#333333'

for i, name in enumerate(networks):
    r, c = divmod(i, 3)
    runs, dots, fit = panels[name]
    ax = fig.add_axes([col_left[c] / W, 1 - (row_top[r] + ph) / H, pw / W, ph / H])

    ax.set_xlim(1992.93, 2018.45)
    ax.set_ylim(-1.705, 1.984)
    ax.set_xticks(x_breaks)
    ax.set_xticks([1997.5, 2002.5, 2007.5, 2012.5, 2017.5], minor=True)
    ax.set_yticks(y_breaks)
    ax.set_yticks([-1.5, -0.5, 0.5, 1.5], minor=True)
    ax.grid(which='major', color='#EBEBEB', lw=0.85, zorder=0)
    ax.grid(which='minor', color='#EBEBEB', lw=0.45, zorder=0)
    ax.set_axisbelow(True)

    rx0, rx1, ry = zip(*runs)
    ax.hlines(ry, rx0, rx1, colors='black', lw=2.6, capstyle='round', zorder=2)
    dx, dy = zip(*dots)
    ax.scatter(dx, dy, s=10, c='black', linewidths=0, zorder=2)

    fx, fy, fse = (np.array(v) for v in zip(*fit))
    ax.fill_between(fx, fy - fse, fy + fse, color='#999999', alpha=0.4, lw=0, zorder=3)
    ax.plot(fx, fy, color='#3366FF', lw=2.3, zorder=4, solid_capstyle='butt')
    ax.axhline(0, color='#A6A6A6', lw=4.6, dashes=(4.4, 4.8), zorder=5)

    for s in ax.spines.values():
        s.set_color(edge)
        s.set_linewidth(1.0)
        s.set_zorder(6)
    ax.tick_params(which='major', length=3.2, width=0.8, color=edge,
                   labelcolor='#4D4D4D', labelsize=12, pad=2.5)
    ax.tick_params(which='minor', length=0)
    ax.tick_params(axis='x', labelbottom=(r == 1), length=3.2 if r == 1 else 0)
    ax.tick_params(axis='y', labelleft=(c == 0), length=3.2 if c == 0 else 0)

    st = fig.add_axes([col_left[c] / W, 1 - row_top[r] / H, pw / W, sh / H])
    st.set_facecolor('#D9D9D9')
    st.set_xticks([])
    st.set_yticks([])
    for s in st.spines.values():
        s.set_color(edge)
        s.set_linewidth(1.0)
    st.text(0.5, 0.5, name, ha='center', va='center', fontsize=12.5, color='#1A1A1A',
            transform=st.transAxes)

fig.text(73 / W, 1 - 28 / H, 'Questions about the Economy', fontsize=22, color='black',
         ha='left', va='baseline')
fig.text(17 / W, 1 - 340 / H, 'Question Bias Relative to January 1994 Baseline', fontsize=18.8,
         rotation=90, ha='center', va='center', color='black')
fig.text(696.5 / W, 1 - 641 / H, 'Year', fontsize=18.8, ha='center', va='center', color='black')

fig.savefig('out.png', dpi=100)
